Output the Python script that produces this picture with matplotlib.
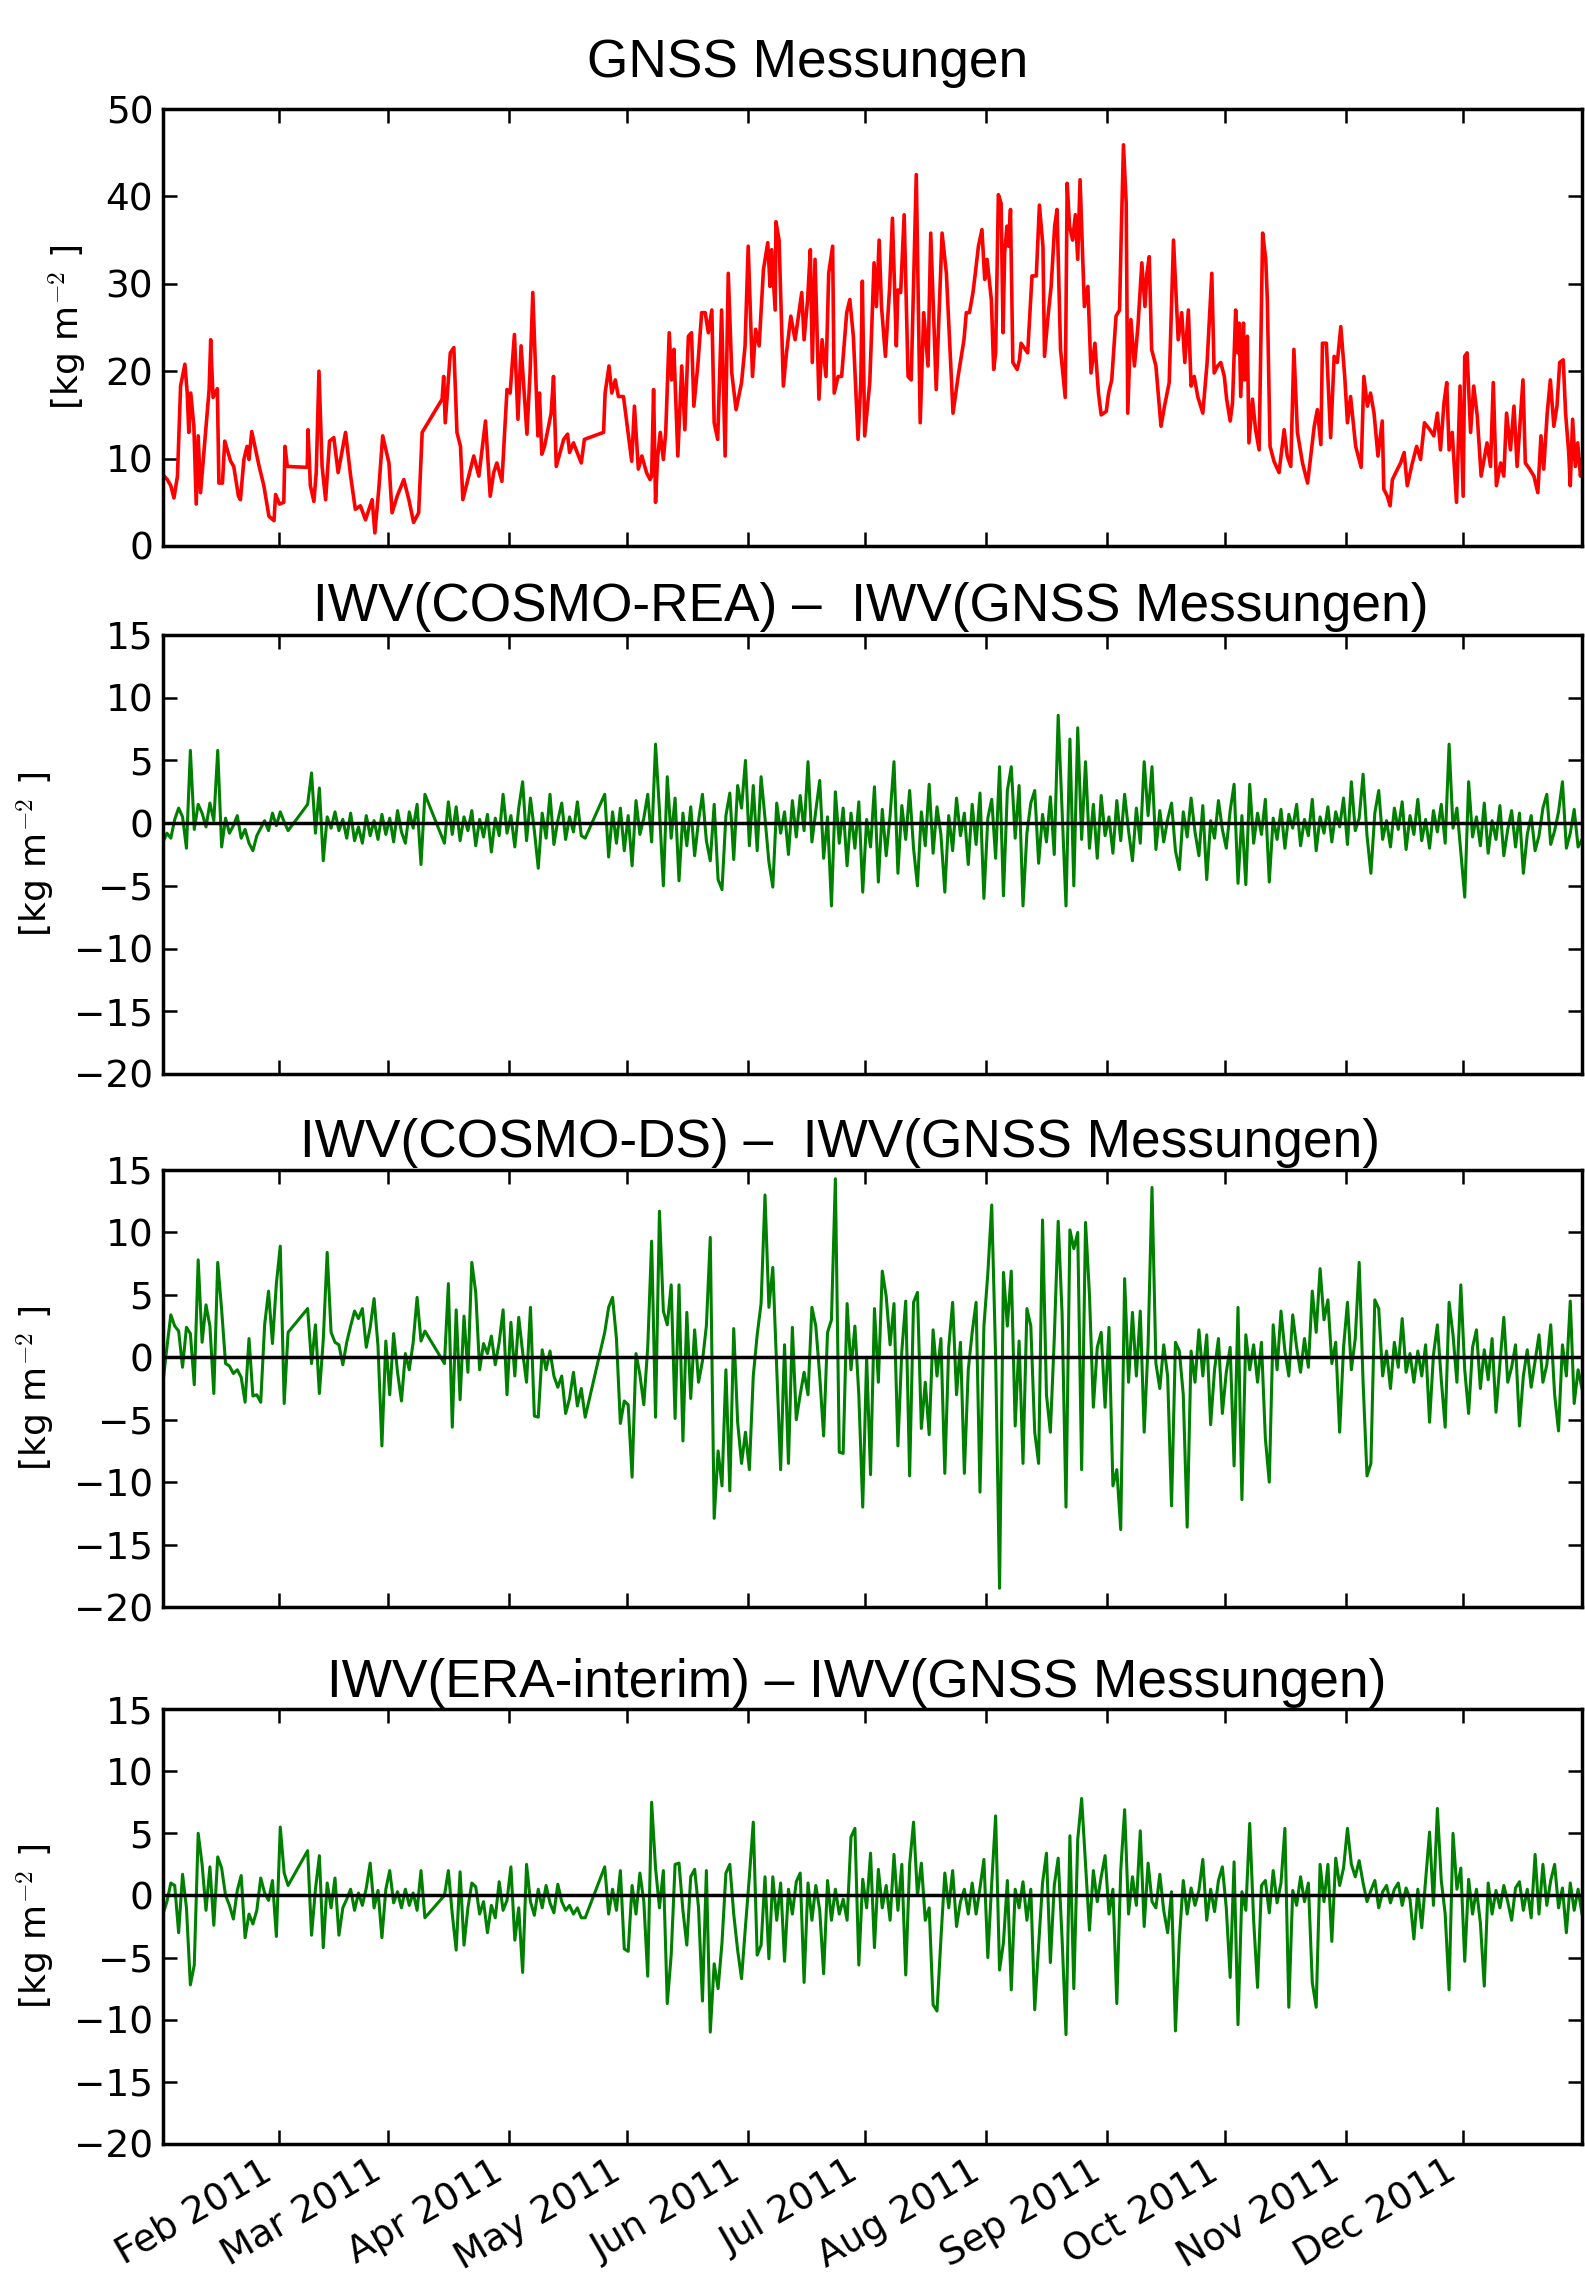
import datetime as dt
import numpy as np
import matplotlib
matplotlib.use('Agg')
import matplotlib.pyplot as plt
import matplotlib.dates as mdates

# GNSS IWV trace, (day of year 2011, kg m-2)
gnss_points = [
    (2.4, 8.2), (2.65, 8.0), (3.5, 7.6), (4.4, 6.9), (5.2, 5.5), (6.1, 8.0), (6.9, 18.3), (8.0, 20.8),
    (8.6, 17.5), (9.0, 13.0), (9.5, 17.5), (10.3, 13.7), (10.9, 4.8), (11.4, 12.6), (12.0, 6.1),
    (14.2, 17.9), (14.6, 23.6), (15.2, 17.0), (16.3, 18.0), (16.7, 7.2), (17.6, 7.2), (18.2, 12.0),
    (19.7, 9.7), (20.5, 9.1), (21.7, 5.7), (22.2, 5.3), (23.1, 9.9), (23.9, 11.4), (24.4, 9.9),
    (25.1, 13.1), (27.0, 9.1), (28.2, 6.9), (29.5, 3.4), (30.8, 2.9), (31.2, 5.9), (32.2, 4.8),
    (33.3, 5.0), (33.6, 11.4), (34.2, 9.1), (39.3, 9.0), (39.5, 13.3), (40.1, 6.9), (41.0, 5.1),
    (41.6, 8.4), (42.3, 20.0), (43.1, 9.1), (44.0, 5.3), (45.0, 12.0), (46.1, 12.4), (47.2, 8.4),
    (49.1, 13.0), (50.4, 8.0), (51.6, 4.2), (52.9, 4.6), (54.2, 3.0), (55.9, 5.3), (56.6, 1.5),
    (57.6, 6.5), (58.6, 12.6), (60.2, 9.5), (61.0, 3.8), (62.3, 5.7), (64.0, 7.6), (65.3, 5.3),
    (66.5, 2.7), (67.8, 3.8), (68.7, 13.0), (73.8, 16.8), (74.2, 19.4), (74.6, 14.1), (75.9, 22.1),
    (76.8, 22.7), (77.6, 13.0), (78.5, 11.4), (79.1, 5.3), (80.6, 8.0), (81.9, 10.3), (83.2, 8.0),
    (84.9, 14.3), (86.1, 5.7), (87.0, 8.4), (87.8, 9.5), (89.1, 7.4), (90.4, 17.9), (91.2, 17.5),
    (92.3, 24.2), (93.2, 14.5), (94.0, 22.9), (95.5, 12.8), (96.3, 19.8), (97.0, 29.0), (97.6, 21.3),
    (98.3, 12.6), (98.7, 17.5), (99.3, 10.5), (100.0, 11.4), (101.7, 15.2), (102.3, 19.4),
    (103.0, 9.1), (104.9, 12.2), (105.9, 12.8), (106.4, 10.7), (107.4, 11.8), (108.7, 10.3),
    (109.4, 9.5), (110.2, 12.2), (115.1, 13.0), (115.5, 17.5), (116.5, 20.6), (117.2, 17.5),
    (118.1, 19.0), (118.9, 17.1), (120.2, 17.1), (122.3, 9.7), (123.0, 16.0), (124.0, 8.8),
    (124.9, 10.3), (126.1, 8.4), (127.0, 7.6), (127.4, 8.0), (127.9, 17.9), (128.4, 5.0),
    (128.9, 10.0), (129.6, 13.0), (130.4, 9.9), (131.0, 13.0), (131.9, 24.4), (132.5, 19.0),
    (133.1, 22.5), (134.1, 10.3), (135.1, 20.6), (135.9, 13.3), (136.8, 24.0), (137.6, 24.4),
    (138.2, 16.0), (139.2, 20.6), (140.2, 26.7), (141.1, 26.7), (141.9, 24.4), (142.8, 27.0),
    (143.4, 14.1), (144.3, 12.2), (145.3, 27.0), (146.2, 10.3), (147.0, 31.2), (147.9, 19.8),
    (149.0, 15.6), (150.4, 18.7), (151.3, 22.9), (152.1, 34.3), (153.2, 19.4), (154.0, 24.8),
    (154.9, 22.9), (156.0, 31.6), (157.1, 34.7), (157.7, 29.7), (158.1, 33.9), (159.0, 27.0),
    (159.2, 37.1), (160.0, 35.0), (161.1, 18.3), (161.9, 22.1), (163.0, 26.3), (164.1, 23.6),
    (165.8, 29.0), (166.4, 23.6), (167.3, 28.2), (168.0, 33.9), (168.5, 21.0), (169.2, 32.8),
    (170.2, 16.8), (171.0, 23.6), (172.0, 19.4), (172.7, 31.2), (173.7, 34.3), (174.1, 17.5),
    (175.1, 19.4), (176.0, 19.4), (177.3, 26.7), (178.1, 28.2), (179.0, 24.0), (180.2, 12.2),
    (180.9, 18.7), (181.3, 30.3), (181.9, 12.6), (183.2, 18.7), (184.3, 32.4), (184.9, 27.4),
    (185.6, 35.0), (186.2, 27.4), (187.2, 21.7), (188.3, 29.7), (189.0, 37.5), (190.0, 22.9),
    (190.4, 29.3), (191.1, 29.0), (192.0, 37.9), (193.0, 19.4), (193.8, 19.0), (195.1, 42.5),
    (196.1, 14.1), (197.0, 26.7), (198.1, 20.6), (198.8, 35.8), (200.2, 17.9), (201.7, 35.8),
    (202.8, 31.2), (204.5, 15.2), (205.8, 19.4), (207.3, 23.6), (207.9, 26.7), (208.7, 26.7),
    (209.6, 29.0), (210.2, 31.2), (211.0, 34.3), (211.9, 36.2), (212.6, 30.5), (213.2, 32.8),
    (214.3, 28.2), (214.9, 20.2), (215.4, 22.1), (216.1, 40.2), (216.8, 39.2), (217.3, 24.4),
    (217.7, 33.5), (218.3, 36.6), (218.7, 34.3), (219.2, 38.5), (219.8, 21.0), (220.9, 20.2),
    (221.5, 21.3), (221.9, 23.2), (223.6, 22.1), (224.7, 30.9), (225.8, 30.9), (226.6, 39.0),
    (227.5, 34.3), (227.9, 21.7), (228.8, 26.3), (229.6, 29.7), (230.5, 36.6), (231.1, 38.5),
    (232.0, 22.5), (233.2, 17.0), (233.7, 41.5), (234.3, 36.6), (235.1, 35.0), (235.8, 37.9),
    (236.4, 32.8), (237.0, 41.9), (238.1, 27.4), (239.0, 29.7), (239.8, 19.8), (240.8, 23.2),
    (241.7, 17.5), (242.4, 15.0), (243.7, 15.4), (244.3, 17.5), (245.1, 19.0), (246.2, 26.3),
    (247.1, 27.0), (247.5, 35.0), (248.1, 45.9), (248.8, 39.2), (249.2, 15.2), (250.0, 25.9),
    (250.9, 20.6), (251.8, 25.1), (252.8, 32.4), (253.6, 27.4), (254.1, 31.2), (254.7, 33.1),
    (255.3, 22.5), (256.4, 20.6), (257.7, 13.7), (258.6, 16.0), (259.8, 18.7), (260.9, 35.0),
    (262.1, 23.6), (263.0, 26.7), (263.8, 21.0), (264.7, 27.0), (265.4, 18.3), (266.2, 19.4),
    (267.1, 17.1), (268.4, 15.2), (269.5, 21.0), (270.7, 31.2), (271.3, 19.8), (272.2, 20.6),
    (273.0, 21.0), (273.9, 19.4), (274.5, 16.8), (275.4, 14.3), (276.0, 16.4), (276.8, 27.0),
    (277.3, 22.1), (277.7, 25.5), (278.1, 17.1), (278.8, 25.5), (279.1, 19.0), (279.8, 24.0),
    (280.2, 11.8), (281.1, 16.8), (281.9, 13.3), (282.8, 11.0), (283.7, 35.8), (284.5, 32.8),
    (284.9, 28.2), (285.6, 11.4), (286.6, 9.7), (287.9, 8.4), (289.2, 13.3), (290.0, 10.3),
    (290.9, 9.1), (291.7, 22.5), (292.6, 13.0), (293.9, 9.5), (295.2, 7.2), (296.9, 13.7),
    (297.7, 15.6), (298.6, 11.6), (299.0, 23.2), (300.0, 23.2), (301.1, 12.4), (302.0, 21.7),
    (302.8, 21.0), (303.7, 25.1), (304.7, 19.4), (305.4, 14.1), (306.2, 17.1), (307.5, 11.4),
    (308.9, 9.0), (309.6, 19.4), (310.5, 16.0), (311.3, 17.5), (312.2, 15.2), (313.2, 10.3),
    (314.3, 14.3), (314.7, 6.5), (315.6, 5.7), (316.3, 4.6), (316.9, 7.6), (318.2, 8.8),
    (319.0, 9.5), (319.9, 10.7), (320.7, 6.9), (322.0, 9.5), (323.1, 11.4), (324.1, 9.9),
    (325.1, 14.1), (326.5, 13.3), (327.5, 12.6), (328.4, 15.2), (329.2, 11.0), (330.1, 16.4),
    (330.8, 18.7), (331.4, 11.0), (332.2, 13.0), (333.3, 5.0), (334.2, 18.3), (335.0, 5.7),
    (335.4, 21.7), (336.0, 22.1), (336.9, 13.0), (337.7, 18.3), (338.6, 14.9), (339.6, 8.0),
    (341.1, 11.8), (342.0, 9.1), (342.7, 18.7), (343.5, 6.9), (344.6, 9.5), (345.4, 8.0),
    (346.1, 15.2), (347.1, 11.0), (348.0, 16.0), (348.8, 9.1), (350.3, 19.0), (350.9, 9.5),
    (352.0, 8.8), (353.1, 8.0), (354.1, 6.1), (354.9, 12.6), (355.6, 8.8), (356.5, 15.2),
    (357.3, 19.0), (358.2, 13.7), (359.0, 16.0), (359.7, 21.0), (360.6, 21.3), (361.2, 15.2),
    (362.0, 10.7), (362.4, 6.9), (363.0, 14.5), (363.7, 9.1), (364.3, 11.8), (365.0, 8.0),
    (365.4, 9.5),
]

# the model minus GNSS differences are daily, in four blocks (GNSS data gaps in between)
seg_start = [2, 39, 74, 115]

rea_diff = [
    [-1.5, -0.8, -1.2, 0.3, 1.2, 0.5, -2.0, 5.8, -0.5, 1.5, 0.8, -0.3, 1.6, 0.2, 5.8, -1.9, 0.4,
     -0.8, -0.2, 0.6, -1.2, -0.5, -1.6, -2.2, -1.0, -0.4, 0.2, -0.6, 0.8, -0.2, 0.9, 0.1, -0.6],
    [1.5, 4.0, -0.8, 2.8, -3.0, 0.5, -0.4, 0.9, -0.6, 0.3, -1.2, 0.8, -1.4, -0.3, -1.6, 0.6, -1.0,
     0.2, -1.3, 0.7, -0.9, 0.4, -1.5, 1.0, -0.7, -1.6, 0.9, -0.4, 1.5, -3.3, 2.3],
    [-1.6, 1.7, -0.9, 1.3, -1.4, 0.5, -0.6, 1.0, -1.8, 0.3, -1.1, 0.7, -2.3, 0.4, -1.0, 2.3, -0.8,
     0.6, -1.9, 1.2, 3.3, -1.4, 2.0, -0.6, -3.6, 0.8, -1.2, 2.3, -1.7, 0.2, 1.6, -1.3, 0.5, -0.7,
     1.7, -1.0, -1.2],
    [2.3, -2.7, 0.9, -1.6, 1.2, -2.2, 0.6, -3.4, 1.8, -0.9, 0.4, 2.3, -1.5, 6.3, 1.0, -5.0, 3.7,
     -1.2, 2.0, -4.6, 0.8, -1.8, 1.3, -2.6, 0.2, 2.3, -1.4, -3.0, 1.5, -4.5, -5.3, 0.6, 2.4, -2.9,
     3.0, 1.2, 5.0, -1.8, 3.0, -2.2, 3.7, 0.4, -3.1, -5.1, 1.6, -0.8, 0.9, -2.5, 1.8, -1.1, 2.2,
     -0.6, 4.9, -1.5, 1.0, 3.4, -2.8, 0.5, -6.6, 2.5, -1.6, 1.2, -3.4, 0.8, -2.0, 1.7, -5.5, 0.3,
     -1.9, 2.9, -4.7, 1.1, -2.6, 0.6, 4.9, -4.0, 1.4, -1.3, 2.6, -2.0, -5.0, 0.9, -1.8, 3.1, -2.4,
     1.3, -0.9, -5.5, 0.6, -2.2, 2.0, -1.0, 0.8, -3.3, 1.5, -1.7, 2.4, -6.0, 0.4, 1.9, -2.8, 4.5,
     -5.8, 2.6, 4.5, -1.2, 3.0, -6.6, -0.8, 1.6, 2.6, -3.2, 0.7, -1.5, 2.1, -2.5, 8.6, 0.9, -6.6,
     6.7, -5.0, 7.6, -1.3, 4.9, -2.0, 1.5, -2.8, 2.2, -1.0, 0.5, -2.4, 1.8, -1.4, 2.3, -0.6, -3.0,
     1.2, -1.6, 4.9, 0.6, 4.5, -2.1, 1.0, -1.5, 0.3, 1.6, -2.2, -3.7, 0.9, -1.1, 2.0, -0.7, -2.6,
     1.4, -4.5, 0.2, -1.2, 1.8, -0.5, -2.0, 1.0, 3.1, -4.8, 0.6, -4.9, 3.1, -1.6, 0.8, -0.9, 1.9,
     -4.7, 0.4, -1.3, 1.1, -2.0, 0.7, -0.4, 1.5, -1.8, 0.3, -1.0, 1.9, -2.2, 0.5, -0.8, 1.3, -1.5,
     0.9, -0.3, 2.0, -1.7, 3.3, -0.6, 0.4, 3.9, -1.0, -4.0, 0.8, 2.6, -1.3, 0.2, -1.9, 1.2, -0.5,
     1.7, -2.1, 0.6, -0.9, 1.9, -1.4, 0.3, -2.0, 1.0, -0.7, 1.5, -1.6, 6.3, -0.4, 1.2, -2.3, -5.9,
     3.3, -1.1, 0.5, -1.8, 1.6, -2.4, 0.2, -1.3, 1.4, -2.6, -0.5, 1.0, -1.9, 0.8, -4.0, -0.9, 0.6,
     -2.2, -1.0, 1.2, 2.3, -1.7, -0.6, 0.9, 3.3, -2.0, -0.8, 1.1, -1.9, -1.3],
]

ds_diff = [
    [-2.0, 0.8, 3.4, 2.5, 2.1, -0.8, 2.4, 1.9, -2.2, 7.8, 1.2, 4.2, 2.5, -2.9, 7.6, 3.8, -0.5,
     -0.7, -1.3, -1.0, -1.6, -3.6, 1.5, -3.1, -3.0, -3.6, 2.6, 5.3, 1.1, 5.9, 8.9, -3.7, 2.0],
    [3.9, -0.5, 2.6, -2.9, 1.4, 8.4, 2.0, 1.2, 1.0, -0.6, 1.2, 2.5, 3.7, 3.1, 3.9, 0.8, 2.4, 4.7,
     0.9, -7.1, 1.3, -3.0, 1.9, -1.2, -3.5, 0.3, -1.0, 1.2, 4.8, 1.3, 2.1],
    [-0.5, 5.9, -5.6, 3.8, -3.4, 3.3, -1.2, 7.6, 5.2, -1.0, 1.1, 0.3, 1.7, -0.6, 1.2, 3.8, -3.0,
     2.8, -1.5, 3.2, 0.4, -2.0, 4.0, -4.7, -4.8, 0.6, -1.0, 0.5, -1.5, -2.4, -1.5, -4.5, -3.3,
     -1.2, -3.9, -2.5, -4.8],
    [2.0, 4.0, 4.8, 1.5, -5.3, -3.5, -3.8, -9.6, 0.3, -1.4, -3.8, 0.8, 9.3, -4.8, 11.7, 3.7, 2.6,
     5.8, -4.9, 5.8, -6.7, 3.6, -3.3, 2.2, -2.0, -0.3, 2.5, 9.6, -12.9, -7.5, -10.3, -1.0, -10.7,
     2.3, -5.2, -8.5, -6.0, -9.0, -1.5, 1.8, 4.3, 13.0, 4.0, 7.2, -1.0, -9.0, 1.0, -8.5, 2.4,
     -5.0, -3.0, -1.2, -3.0, 4.0, 2.5, -1.5, -6.3, 2.0, 3.0, 14.3, -7.6, -7.7, 4.3, -1.0, 2.5,
     -3.0, -12.0, 0.0, -9.4, 3.9, -2.0, 6.9, 4.9, 1.0, 4.3, -7.1, 0.5, 4.5, -9.5, 4.4, 5.2, -5.7,
     -2.0, -6.2, 2.2, -1.5, 1.5, -9.3, 0.8, 4.4, -3.0, 1.2, -9.3, -1.0, 2.0, 4.4, -10.8, 2.5, 6.7,
     12.2, 0.0, -18.5, 6.8, 2.5, 6.9, -5.5, 1.3, -8.5, 3.9, 2.5, -6.0, -8.5, 11.0, -3.0, -6.0,
     1.5, 10.9, 3.5, -12.0, 10.2, 8.7, 10.0, -9.0, 10.8, 5.0, -4.0, 0.8, 2.0, -4.0, 2.4, -10.3,
     -9.0, -13.8, 6.3, -2.0, 3.6, -1.5, 3.7, -6.0, 1.0, 13.6, -0.5, -2.5, 1.0, -1.5, -11.9, 1.2,
     0.5, -3.0, -13.6, 0.5, -2.0, 2.2, -1.5, 1.8, -5.4, -1.0, 1.5, -4.5, -1.2, 0.8, -8.7, 4.0,
     -11.4, 1.8, -1.0, 1.0, -2.0, 1.2, -6.5, -10.0, 2.6, -1.0, 3.7, 0.5, -1.5, 3.4, 0.8, -1.2,
     1.5, -0.8, 5.3, 2.0, 7.1, 3.0, 4.6, -0.5, 1.2, -6.0, 0.8, 4.4, -1.0, 1.5, 7.6, -2.0, -9.5,
     -8.5, 4.6, 3.9, -1.5, 0.5, -2.5, 1.2, -0.8, 3.1, -1.2, 0.3, -2.0, 0.5, -1.5, 1.0, -5.2, 0.2,
     2.6, -1.8, -5.6, 4.4, 1.8, -2.0, 5.8, -1.0, -4.5, 0.8, 2.2, -2.5, 0.6, -1.8, 1.5, -4.4, -0.5,
     3.2, -2.0, -0.8, 1.0, -5.5, -1.5, 0.6, -2.4, -0.3, 1.8, -2.0, -0.6, 2.6, -3.0, -5.9, 1.0,
     -1.5, 4.5, -3.7, -1.0, -2.5],
]

era_diff = [
    [-1.5, -0.5, 1.0, 0.8, -3.0, 1.7, -1.0, -7.2, -5.6, 5.0, 2.5, -1.2, 2.3, -2.4, 3.1, 2.2, 0.0,
     -0.8, -1.9, 0.4, 1.6, -3.4, -1.5, -2.3, -1.2, 1.4, 0.2, -0.4, 1.2, -3.3, 5.5, 1.8, 0.8],
    [3.6, -3.2, 0.5, 3.2, -4.2, 1.0, -1.0, 1.4, -3.2, -1.0, -0.3, 0.5, -1.2, 0.2, -0.8, 0.6, 2.6,
     -1.0, 0.4, -3.4, 0.5, 2.0, -0.6, 0.3, -1.0, 0.5, -0.8, 0.2, -1.2, 2.0, -1.8],
    [0.0, 2.0, -1.5, -4.4, 1.9, -4.0, -1.0, 1.0, 0.7, -1.5, -0.5, -3.0, -0.8, -1.8, 1.1, -1.2,
     -0.4, 2.3, -3.6, -1.0, -6.2, 2.5, -0.5, -1.6, 0.5, -1.0, 0.8, -0.6, -1.4, 0.9, -0.5, -1.2,
     -0.8, -1.5, -1.0, -1.8, -1.8],
    [2.3, -1.5, 0.5, -1.2, 2.0, -4.3, -4.5, 0.8, -1.5, 1.8, -0.5, -6.5, 7.5, 2.2, -1.0, 2.0,
     -8.7, -4.8, 2.5, 2.6, -1.2, -4.0, 1.5, 2.1, -1.0, -8.5, 2.0, -11.0, -5.5, -7.5, -3.8, 1.8,
     2.5, -1.5, -4.4, -6.7, -2.5, 1.5, 5.9, -4.8, -4.0, 1.5, -5.1, 1.5, -2.0, 1.0, -5.3, 0.5,
     -1.5, 1.1, 1.8, -7.0, 1.0, -2.0, 0.8, -1.2, -6.3, 1.2, -2.0, 0.5, -1.5, -0.3, -2.0, 4.7, 5.4,
     -5.6, 1.3, -1.0, 3.4, -4.2, 2.1, -1.0, 0.8, -2.0, 3.3, -1.2, 2.5, -6.4, 2.5, 5.9, 0.0, 2.6,
     -2.0, -1.0, -8.8, -9.3, -3.5, 1.8, -1.0, 2.0, -2.5, -0.5, 0.5, -1.5, 1.0, -1.5, 0.6, 2.9,
     -5.0, 1.0, 6.4, -6.0, -3.8, 1.2, -7.6, 0.5, -1.0, 1.1, -2.0, 0.5, -9.2, -4.0, 1.0, 3.4, -5.4,
     0.8, 3.0, -3.5, -11.2, 4.8, -7.5, 4.5, 7.8, 2.5, -2.8, 2.0, -0.5, 1.5, 3.2, -1.5, 0.5, -8.7,
     2.0, 6.9, -1.5, 1.5, -0.8, 5.2, -2.5, 2.6, -0.5, -1.0, 1.7, -1.2, -3.0, 0.3, -10.9, -3.5,
     1.2, -1.5, 0.6, -0.8, 0.4, 2.9, -2.0, 0.5, -1.3, 1.2, 2.3, -1.0, -6.6, 2.7, -10.4, 0.3, -1.2,
     5.8, -2.0, -7.4, 0.8, 1.2, -1.4, 2.0, -0.6, 1.0, 5.4, -9.0, 0.4, -0.8, 1.5, -0.5, 1.0, -7.0,
     -9.0, 2.5, -0.5, 2.5, -3.7, 3.0, 0.8, 2.2, 5.4, 2.5, 1.5, 2.8, 1.0, -0.5, 0.4, 1.2, -1.0,
     0.3, 0.8, -0.6, 0.5, 1.0, -0.8, 0.6, -0.3, -3.5, 0.5, -2.6, 1.2, 5.1, -0.8, 7.0, 1.2, -1.5,
     -7.6, 5.0, 0.5, 2.2, -5.3, 1.3, -1.5, 0.5, -2.2, -7.3, 1.0, -1.5, 0.4, -1.0, 0.8, -0.5, -2.0,
     0.6, 1.1, -1.2, 0.5, -1.8, 3.3, -1.5, 2.5, -0.8, 1.2, 2.5, -1.0, 0.6, -3.0, 1.0, -1.2, 0.5,
     -1.5],
]

titles = [
    'GNSS Messungen',
    'IWV(COSMO-REA) \u2013  IWV(GNSS Messungen)',
    'IWV(COSMO-DS) \u2013  IWV(GNSS Messungen)',
    'IWV(ERA-interim) \u2013 IWV(GNSS Messungen)',
]

W, H = 1585, 2275
LEFT, RIGHT = 163, 1582
boxes = [(109, 546), (635, 1074), (1170, 1607), (1709, 2144)]
title_pads = [23, 10, 9.5, 8.6]
title_x = [0.4545, 0.4985, 0.477, 0.489]

base = mdates.date2num(dt.datetime(2011, 1, 1))


def daily_series(segments):
    # gaps between blocks are simply bridged by the line, as in the original
    x, y = [], []
    for start, vals in zip(seg_start, segments):
        x.extend(base + start - 1 + 0.4 + np.arange(len(vals)))
        y.extend(vals)
    return np.array(x), np.array(y)


plt.rcParams['mathtext.fontset'] = 'cm'
plt.rcParams['axes.linewidth'] = 2.5

fig = plt.figure(figsize=(W / 100, H / 100), dpi=100)

gx = base + np.array([p[0] for p in gnss_points]) - 1
gy = np.array([p[1] for p in gnss_points])
green = '#008000'
series = [(gx, gy, 'r', 2.6), daily_series(rea_diff) + (green, 2.2),
          daily_series(ds_diff) + (green, 2.2), daily_series(era_diff) + (green, 2.2)]

for i, (top, bot) in enumerate(boxes):
    ax = fig.add_axes([LEFT / W, 1 - bot / H, (RIGHT - LEFT) / W, (bot - top) / H])
    x, y, col, lw = series[i]
    ax.plot(x, y, color=col, lw=lw)
    if i == 0:
        ax.set_ylim(0, 50)
        ax.set_yticks(range(0, 51, 10))
    else:
        ax.axhline(0, color='k', lw=2.5)
        ax.set_ylim(-20, 15)
        ax.set_yticks(range(-20, 16, 5))
    ax.set_xlim(base + 1.4, base + 364.4)
    ax.xaxis_date()
    ax.xaxis.set_major_locator(mdates.MonthLocator(bymonth=range(2, 13)))
    ax.xaxis.set_major_formatter(mdates.DateFormatter('%b %Y'))
    ax.tick_params(direction='in', length=10, width=1.8, labelsize=27, pad=7,
                   top=True, right=True)
    ax.set_ylabel('[kg m$^{-2}$ ]', fontsize=26, labelpad=12)
    ax.set_title(titles[i], fontsize=38.3, family='Liberation Sans',
                 pad=title_pads[i], x=title_x[i])
    if i < 3:
        ax.tick_params(labelbottom=False)
    else:
        ax.tick_params(axis='x', pad=7)
        for lab in ax.get_xticklabels():
            lab.set_rotation(30)
            lab.set_ha('right')

fig.savefig('out.png', dpi=100)
